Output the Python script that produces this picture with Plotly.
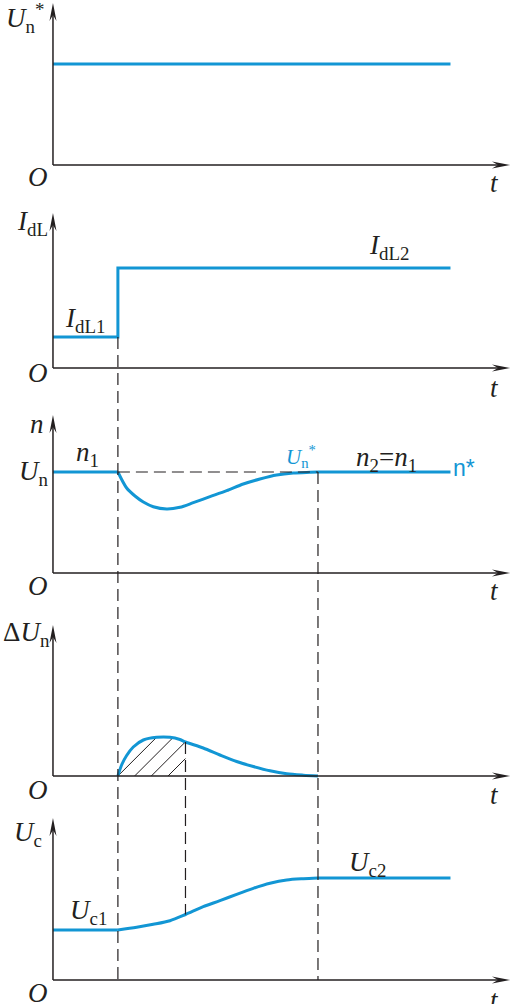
import numpy as np
import plotly.graph_objects as go

# ---------------- data ----------------
t_ref = [0.0, 30.0]
un_ref = [10.1, 10.1]

t_idl = [0.0, 4.9, 4.9, 30.0]
idl = [3.1, 3.1, 10.0, 10.0]

t_n = [0.0, 4.9, 5.56, 6.19, 6.82, 7.57, 8.58, 9.58, 10.59, 11.85, 13.11,
       14.36, 15.62, 16.88, 18.14, 19.4, 20.0, 30.0]
n_vals = [10.1, 10.1, 8.5, 7.7, 7.1, 6.63, 6.4, 6.57, 7.03, 7.63, 8.23,
          8.9, 9.4, 9.8, 10.0, 10.07, 10.1, 10.1]

t_du = [4.9, 5.18, 5.56, 6.06, 6.82, 7.83, 8.83, 9.58, 10.0, 11.34, 12.6,
        13.86, 15.12, 16.38, 17.64, 18.9, 20.0]
du_vals = [0.0, 1.1, 2.05, 2.9, 3.6, 3.87, 3.87, 3.65, 3.4, 2.8, 2.1,
           1.45, 0.95, 0.52, 0.22, 0.08, 0.0]

t_uc = [0.0, 4.9, 6.32, 7.57, 8.83, 10.0, 11.34, 12.6, 13.86, 15.12, 16.38,
        17.64, 18.9, 20.0, 30.0]
uc_vals = [5.0, 5.0, 5.27, 5.57, 5.93, 6.55, 7.33, 7.93, 8.57, 9.17, 9.67,
           10.0, 10.13, 10.2, 10.2]

t_events = [4.9, 10.0, 20.0]   # load step, hatch end, settling

# ---------------- geometry ----------------
W, H = 511, 1004
ML = 49
PX_T = 13.25            # pixels per time unit
PX_V = 10.0             # pixels per value unit
T_LO = -0.3
T_HI = T_LO + (W - ML) / PX_T
T_ARROW = (510 - (ML - T_LO * PX_T)) / PX_T
AXIS_PX = [165, 368, 573, 776, 980]
TIP_PX = [3, 213, 415, 625, 818]
HATCH_PX = 16.7
BLUE = "#1296d4"
INK = "#231f20"

def ax_names(i):
    s = "" if i == 0 else str(i + 1)
    return "x" + s, "y" + s

def y_dom(i):
    return [1 - (AXIS_PX[i] + 5) / H, 1 - (TIP_PX[i] - 3) / H]

def y_rng(i):
    return [-0.5, (AXIS_PX[i] - TIP_PX[i] + 3) / PX_V]

def v2paper(i, v):
    d, r = y_dom(i), y_rng(i)
    return d[0] + (v - r[0]) / (r[1] - r[0]) * (d[1] - d[0])

def px2x(px):
    return (px - ML) / (W - ML)

def px2y(py):
    return 1 - py / H

def pieces(tx, vy):
    """split a series at the event times: flat-before, transient, flat-after"""
    a = tx.index(t_events[0]) if t_events[0] in tx else 0
    b = tx.index(t_events[2]) if t_events[2] in tx else len(tx) - 1
    out = []
    if a > 0:
        out.append((tx[:a + 1], vy[:a + 1], "linear"))
    out.append((tx[a:b + 1], vy[a:b + 1], "spline"))
    if b < len(tx) - 1:
        out.append((tx[b:], vy[b:], "linear"))
    return out

fig = go.Figure()
series = [
    [(t_ref, un_ref, "linear")],
    [(t_idl, idl, "linear")],
    pieces(t_n, n_vals),
    pieces(t_du, du_vals),
    pieces(t_uc, uc_vals),
]
for i, parts in enumerate(series):
    xa, ya = ax_names(i)
    for tx, vy, shp in parts:
        fig.add_trace(go.Scatter(
            x=tx, y=vy, xaxis=xa, yaxis=ya, mode="lines",
            line=dict(color=BLUE, width=3, shape=shp, smoothing=0.8),
            showlegend=False, hoverinfo="skip"))

shapes = []
# hatching (45° lines) under the ΔUn curve between the first two event times
slope = PX_T / PX_V
t0 = t_events[0]
while t0 < t_events[1] - 0.3:
    ts = np.linspace(t0, t_events[1], 600)
    cur = np.interp(ts, t_du, du_vals)
    ln = (ts - t0) * slope
    hit = np.where((ln >= cur) & (ts > t0 + 0.05))[0]
    te = ts[hit[0]] if len(hit) else t_events[1]
    shapes.append(dict(type="line", xref="x4", yref="y4", x0=t0, y0=0,
                       x1=te, y1=(te - t0) * slope, layer="below",
                       line=dict(color=INK, width=1)))
    t0 += HATCH_PX / PX_T

for i in range(5):
    xa, ya = ax_names(i)
    ytop = (AXIS_PX[i] - TIP_PX[i]) / PX_V
    shapes.append(dict(type="line", xref=xa, yref=ya, x0=0, x1=T_ARROW - 0.5,
                       y0=0, y1=0, line=dict(color=INK, width=1.5)))
    shapes.append(dict(type="line", xref=xa, yref=ya, x0=0, x1=0,
                       y0=0, y1=ytop - 0.5, line=dict(color=INK, width=1.5)))
    shapes.append(dict(type="path", xref=xa, yref=ya, xsizemode="pixel",
                       ysizemode="pixel", xanchor=T_ARROW, yanchor=0,
                       path="M0,0 L-18,-3.5 L-12,0 L-18,3.5 Z",
                       fillcolor=INK, line=dict(width=0)))
    shapes.append(dict(type="path", xref=xa, yref=ya, xsizemode="pixel",
                       ysizemode="pixel", xanchor=0, yanchor=ytop,
                       path="M0,0 L-3.5,-18 L0,-12 L3.5,-18 Z",
                       fillcolor=INK, line=dict(width=0)))

dash = dict(color=INK, width=1.2, dash="12px,6px")
# vertical guides
shapes.append(dict(type="line", xref="x", yref="paper", x0=t_events[0], x1=t_events[0],
                   y0=v2paper(1, idl[1]), y1=v2paper(4, 0), line=dash))
shapes.append(dict(type="line", xref="x", yref="paper", x0=t_events[2], x1=t_events[2],
                   y0=v2paper(2, n_vals[-1]), y1=v2paper(4, 0), line=dash))
shapes.append(dict(type="line", xref="x", yref="paper", x0=t_events[1], x1=t_events[1],
                   y0=v2paper(3, du_vals[t_du.index(t_events[1])]),
                   y1=v2paper(4, uc_vals[t_uc.index(t_events[1])]), line=dash))
# horizontal guide at n1 level
shapes.append(dict(type="line", xref="x3", yref="y3", x0=t_events[0], x1=t_events[2],
                   y0=n_vals[0], y1=n_vals[0], line=dash))

SERIF = "Liberation Serif"
FS = 27
anns = []
def lab(text, cx, cy, size=FS, color=INK, family=SERIF):
    anns.append(dict(text=text, x=px2x(cx), y=px2y(cy), xref="paper", yref="paper",
                     xanchor="center", yanchor="middle", showarrow=False,
                     font=dict(family=family, size=size, color=color)))

O = "<i>O</i>"
T = "<i>t</i>"
# panel 1
lab("<i>U</i><sub>n</sub><sup>*</sup>", 25, 18)
lab(O, 38, 177); lab(T, 494, 183)
# panel 2
lab("<i>I</i><sub>dL</sub>", 32, 223)
lab("<i>I</i><sub>dL2</sub>", 389, 247)
lab("<i>I</i><sub>dL1</sub>", 85, 320)
lab(O, 38, 373); lab(T, 494, 388)
# panel 3
lab("<i>n</i>", 37, 424)
lab("<i>n</i><sub>1</sub>", 87, 454)
lab("<i>U</i><sub>n</sub>", 34, 473)
lab("<i>U</i><sub>n</sub><sup>*</sup>", 301, 456, size=21, color=BLUE)
lab("<i>n</i><sub>2</sub>=<i>n</i><sub>1</sub>", 386, 459)
lab("n*", 464, 468, size=23, color=BLUE, family="Liberation Sans")
lab(O, 38, 586); lab(T, 494, 591)
# panel 4
lab("Δ<i>U</i><sub>n</sub>", 26, 634)
lab(O, 38, 790); lab(T, 494, 795)
# panel 5
lab("<i>U</i><sub>c</sub>", 28, 834)
lab("<i>U</i><sub>c1</sub>", 88, 912)
lab("<i>U</i><sub>c2</sub>", 367, 864)
lab(O, 38, 993); lab(T, 494, 1000)

layout = dict(
    width=W, height=H, margin=dict(l=ML, r=0, t=0, b=0, autoexpand=False),
    paper_bgcolor="white", plot_bgcolor="rgba(0,0,0,0)",
    shapes=shapes, annotations=anns, showlegend=False,
)
for i in range(5):
    xa, ya = ax_names(i)
    xk = "xaxis" + xa[1:]
    yk = "yaxis" + ya[1:]
    layout[xk] = dict(domain=[0, 1], range=[T_LO, T_HI], visible=False,
                      anchor=ya, fixedrange=True)
    layout[yk] = dict(domain=y_dom(i), range=y_rng(i), visible=False,
                      anchor=xa, fixedrange=True)
fig.update_layout(**layout)
fig.write_html("out.html", config={"displayModeBar": False},
               post_script="document.body.style.margin='0';document.body.style.overflow='hidden';")
